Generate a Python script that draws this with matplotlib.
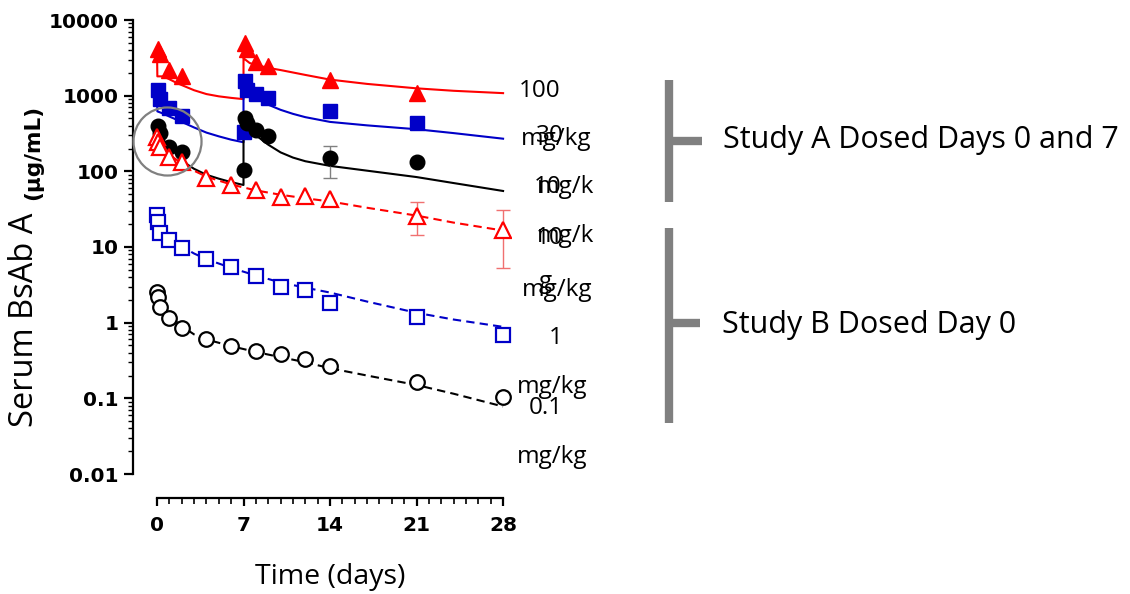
import matplotlib
matplotlib.use("Agg")
import matplotlib.pyplot as plt
from matplotlib.lines import Line2D
from matplotlib.ticker import FixedLocator, NullFormatter, LogLocator

# ---------------- data ----------------
# Study A (dosed days 0 and 7) observed
t_A100 = [0.083, 0.25, 1, 2, 7.083, 7.25, 8, 9, 14, 21]
c_A100 = [4200, 3500, 2200, 1800, 4900, 4100, 2800, 2500, 1620, 1080]

t_A30 = [0.083, 0.25, 1, 2, 7, 7.083, 7.25, 8, 9, 14, 21]
c_A30 = [1200, 900, 690, 540, 330, 1550, 1200, 1050, 920, 630, 440]

t_A10 = [0.083, 0.25, 1, 2, 7, 7.083, 7.25, 8, 9, 14, 21]
c_A10 = [400, 320, 210, 180, 104, 510, 430, 350, 290, 150, 132]
# error bar for 10 mg/kg Study A, day 14
t_A10_err = [14]
c_A10_err = [150]
lo_A10_err = [69]
hi_A10_err = [65]

# Study A model curves
tm_A100 = [0, 0.03, 0.5, 1, 1.5, 2, 3, 4, 5, 6, 7, 7, 7.03, 7.5, 8, 9, 10, 12, 14, 17, 21, 24, 28]
cm_A100 = [4300, 1800, 1800, 1650, 1500, 1380, 1180, 1050, 980, 935, 900, 5000, 3100, 2700, 2550,
           2330, 2180, 1880, 1630, 1430, 1250, 1160, 1080]
tm_A30 = [0, 0.03, 0.5, 1, 2, 3, 4, 5, 6, 7, 7, 7.03, 7.5, 8, 8.5, 9, 10, 11, 12, 14, 17, 21, 24, 28]
cm_A30 = [1200, 620, 580, 530, 450, 380, 325, 290, 262, 242, 1500, 1100, 1000, 920, 850, 760,
          650, 575, 520, 450, 405, 360, 320, 270]
tm_A10 = [0, 0.03, 0.5, 1, 1.5, 2, 2.5, 3, 4, 5, 6, 7, 7, 7.03, 7.5, 8, 9, 10, 11, 12, 14, 17, 21, 24, 28]
cm_A10 = [420, 300, 260, 215, 175, 145, 122, 108, 90, 80, 72, 66, 520, 420, 360, 300, 225, 178,
          152, 136, 118, 102, 84, 70, 55]

# Study B (dosed day 0) observed
t_B = [0.02, 0.083, 0.25, 1, 2, 4, 6, 8, 10, 12, 14, 21, 28]
c_B10 = [283, 243, 209, 154, 132, 81, 66, 56, 46, 47, 43, 26, 17]
c_B1 = [26.4, 21.3, 15.2, 12.3, 9.6, 6.9, 5.4, 4.1, 2.94, 2.68, 1.81, 1.18, 0.68]
c_B01 = [2.52, 2.17, 1.6, 1.14, 0.84, 0.60, 0.49, 0.42, 0.38, 0.33, 0.265, 0.163, 0.103]
# error bars for 10 mg/kg Study B
t_B10_err = [21, 28]
c_B10_err = [26, 17]
lo_B10_err = [11.7, 11.8]
hi_B10_err = [13, 14]

# Study B model curves
tm_B = [0, 0.25, 0.5, 1, 2, 3, 4, 6, 8, 10, 12, 14, 17, 21, 24, 28]
cm_B10 = [300, 230, 200, 165, 128, 102, 85, 67, 56, 49, 44, 40, 33, 26, 21, 16.5]
cm_B1 = [28, 19, 16.5, 13.5, 10.2, 8.2, 6.9, 5.3, 4.2, 3.4, 2.9, 2.5, 1.9, 1.35, 1.1, 0.88]
cm_B01 = [2.9, 2.0, 1.65, 1.25, 0.9, 0.7, 0.6, 0.49, 0.41, 0.35, 0.3, 0.25, 0.2, 0.15, 0.115, 0.078]

# highlighted region (gray circle)
circle_t = [0.8]
circle_c = [250]

x_ticks = [0, 7, 14, 21, 28]
x_ticklabels = ["0", "7", "14", "21", "28"]
y_ticks = [0.01, 0.1, 1, 10, 100, 1000, 10000]
y_ticklabels = ["0.01", "0.1", "1", "10", "100", "1000", "10000"]

dose_labels = ["100", "mg/kg", "30", "mg/k", "10", "mg/k", "10", "g", "mg/kg", "1",
               "mg/kg", "0.1", "mg/kg"]
study_labels = ["Study A Dosed Days 0 and 7", "Study B Dosed Day 0"]
xlabel = "Time (days)"
ylabel_main = "Serum BsAb A"
ylabel_unit = "(µg/mL)"

# ---------------- layout ----------------
TICK_SIZE = 14.5
plt.rcParams["xtick.labelsize"] = TICK_SIZE
plt.rcParams["ytick.labelsize"] = TICK_SIZE

W, H = 1130, 594
fig = plt.figure(figsize=(W / 100, H / 100), dpi=100)

def fx(px):
    return px / W

def fy(py):
    return 1 - py / H

RED = "#ff0000"
BLUE = "#0000c8"
BLACK = "#000000"
GRAY = "#808080"
LBL_FONT = "Open Sans"

ax = fig.add_axes([fx(133), fy(474), (510.5 - 133) / W, (474 - 20) / H])
ax.set_yscale("log")
ax.set_xlim(-1.94, 28.6)
ax.set_ylim(0.01, 10000)

lw = 1.5
# model curves
ax.plot(tm_A100, cm_A100, color=RED, lw=lw, zorder=2)
ax.plot(tm_A30, cm_A30, color=BLUE, lw=lw, zorder=2)
ax.plot(tm_A10, cm_A10, color=BLACK, lw=lw, zorder=2)
dash = (0, (4, 2.5))
ax.plot(tm_B, cm_B10, color=RED, lw=lw, ls=dash, zorder=2)
ax.plot(tm_B, cm_B1, color=BLUE, lw=lw, ls=dash, zorder=2)
ax.plot(tm_B, cm_B01, color=BLACK, lw=lw, ls=dash, zorder=2)

# error bars
ax.errorbar(t_A10_err, c_A10_err, yerr=[lo_A10_err, hi_A10_err], fmt="none",
            ecolor=GRAY, elinewidth=1.0, capsize=5, capthick=1.0, zorder=3)
ax.errorbar(t_B10_err, c_B10_err, yerr=[lo_B10_err, hi_B10_err], fmt="none",
            ecolor="#f07070", elinewidth=1.0, capsize=5, capthick=1.0, zorder=3)

# observed points, Study A (filled)
ax.plot(t_A100, c_A100, ls="none", marker="^", ms=11, color=RED, mec=RED, zorder=4)
ax.plot(t_A30, c_A30, ls="none", marker="s", ms=10.5, color=BLUE, mec=BLUE, zorder=4)
ax.plot(t_A10, c_A10, ls="none", marker="o", ms=10.5, color=BLACK, mec=BLACK, zorder=4)

# observed points, Study B (open)
ax.plot(t_B, c_B10, ls="none", marker="^", ms=11.5, mfc="white", mec=RED, mew=1.6, zorder=5)
ax.plot(t_B, c_B1, ls="none", marker="s", ms=10.5, mfc="white", mec=BLUE, mew=1.6, zorder=5)
ax.plot(t_B, c_B01, ls="none", marker="o", ms=10.5, mfc="white", mec=BLACK, mew=1.6, zorder=5)

# gray highlight circle
ax.plot(circle_t, circle_c, ls="none", marker="o", ms=49, mfc="none", mec=GRAY, mew=1.6,
        zorder=6, clip_on=False)

# axes styling (Prism-like)
for s in ("top", "right"):
    ax.spines[s].set_visible(False)
ax.spines["left"].set_linewidth(1.6)
ax.spines["bottom"].set_linewidth(1.6)
ax.spines["left"].set_bounds(0.01, 10000)
ax.spines["bottom"].set_bounds(0, 28)
ax.spines["bottom"].set_position(("outward", 17.3))

ax.set_xticks(x_ticks, labels=x_ticklabels)
ax.set_yticks(y_ticks, labels=y_ticklabels)
ax.xaxis.set_minor_locator(FixedLocator([d for d in range(0, 29) if d % 7 != 0]))
ax.yaxis.set_minor_locator(LogLocator(base=10, subs=range(2, 10), numticks=20))
ax.yaxis.set_minor_formatter(NullFormatter())
ax.xaxis.set_minor_formatter(NullFormatter())

ax.tick_params(axis="y", which="major", length=6.5, width=1.6, pad=4, direction="out")
ax.tick_params(axis="y", which="minor", length=3.5, width=1.0, direction="out")
ax.tick_params(axis="x", which="major", length=6, width=1.6, pad=7, direction="out")
ax.tick_params(axis="x", which="minor", length=4.5, width=1.2, direction="out")

fig.canvas.draw()
for lab in ax.get_xticklabels() + ax.get_yticklabels():
    lab.set_fontfamily("DejaVu Sans")
    lab.set_fontweight("heavy")
    lab.set_fontsize(TICK_SIZE)

# axis labels
fig.text(fx(330), fy(577), xlabel, family=LBL_FONT, size=20.5, ha="center", va="center")
fig.text(fx(25), fy(320), ylabel_main, family=LBL_FONT, size=23.5, rotation=90,
         ha="center", va="center")
fig.text(fx(33), fy(152), ylabel_unit, family="DejaVu Sans", weight="bold", size=15.5,
         rotation=90, ha="center", va="center")

# dose labels at right of curves
dose_pos = [(540, 91), (556, 139), (550, 136), (566, 187), (548, 187), (566, 236), (550, 238),
            (545, 282), (557, 290), (556, 338), (552, 387), (546, 408), (552, 457)]
for txt, (px, py) in zip(dose_labels, dose_pos):
    fig.text(fx(px), fy(py), txt, family=LBL_FONT, size=17.5, ha="center", va="center")

# brackets
bw = 6
fig.add_artist(Line2D([fx(669), fx(669)], [fy(80), fy(202)], color=GRAY, lw=bw, solid_capstyle="butt"))
fig.add_artist(Line2D([fx(669), fx(702)], [fy(141), fy(141)], color=GRAY, lw=bw, solid_capstyle="butt"))
fig.add_artist(Line2D([fx(669), fx(669)], [fy(228), fy(423)], color=GRAY, lw=bw, solid_capstyle="butt"))
fig.add_artist(Line2D([fx(669), fx(700)], [fy(323), fy(323)], color=GRAY, lw=bw, solid_capstyle="butt"))

fig.text(fx(723), fy(140), study_labels[0], family=LBL_FONT, size=22, ha="left", va="center")
fig.text(fx(722), fy(325), study_labels[1], family=LBL_FONT, size=22, ha="left", va="center")

fig.savefig("out.png", dpi=100, facecolor="white")
